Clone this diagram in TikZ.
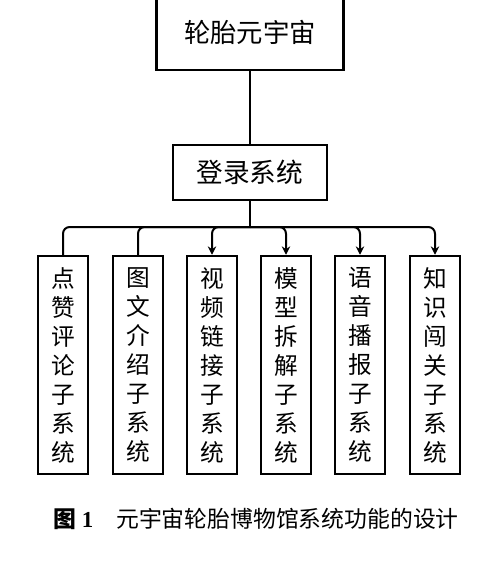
\documentclass[tikz,border=0pt]{standalone}
\usepackage{fontspec}
\setmainfont{Noto Sans CJK SC}
\newfontfamily\numfont{Liberation Serif}
\usepackage{tikz}
\usetikzlibrary{arrows.meta, positioning}

\begin{document}
\begin{tikzpicture}[x=0.6pt, y=-0.6pt,
    box/.style={draw, line width=1.5pt, inner sep=0pt},
    subbox/.style={box, minimum width=30pt, minimum height=130.8pt,
                   align=center, font=\fontsize{14.2}{17.4}\selectfont},
    link/.style={line width=1.2pt, rounded corners=4pt},
    arrowlink/.style={link, -{Stealth[length=5pt, width=5pt]}}]
    \begin{scope}
      % page fixed to the reference size, top box runs off the edge
      \useasboundingbox (0,0) rectangle (500,565);
      \clip (0,0) rectangle (500,565);

      % Level 0: tyre metaverse
      \node[box, minimum width=112.2pt, minimum height=45.6pt,
            font=\fontsize{15.8}{18}\selectfont] (top) at (250,32) {\raisebox{-3pt}{轮胎元宇宙}};

      % Level 1: login
      \node[box, minimum width=92.4pt, minimum height=33pt,
            font=\fontsize{16}{18}\selectfont] (login) at (250,172.5) {登录系统};
      \coordinate (bus) at (250,227);

      % Level 2: subsystems
      \node[subbox] (c1) at (63,365)  {点\\赞\\评\\论\\子\\系\\统};
      \node[subbox] (c2) at (138,365) {图\\文\\介\\绍\\子\\系\\统};
      \node[subbox] (c3) at (212,365) {视\\频\\链\\接\\子\\系\\统};
      \node[subbox] (c4) at (286,365) {模\\型\\拆\\解\\子\\系\\统};
      \node[subbox] (c5) at (360,365) {语\\音\\播\\报\\子\\系\\统};
      \node[subbox] (c6) at (435,365) {知\\识\\闯\\关\\子\\系\\统};

      % Connectors
      \draw[link] (top) -- (login);
      \draw[link] (login) -- (bus);
      \draw[link] (bus) -| (c1.north);
      \draw[link] (bus) -| (c2.north);
      \draw[arrowlink] (bus) -| (c3.north);
      \draw[arrowlink] (bus) -| (c4.north);
      \draw[arrowlink] (bus) -| (c5.north);
      \draw[arrowlink] (bus) -| (c6.north);

      % Caption
      \node[anchor=west, font=\fontsize{13.7}{16}\selectfont] (caption) at (48,519)
        {{\bfseries 图\ \numfont 1}\quad 元宇宙轮胎博物馆系统功能的设计};
    \end{scope}
\end{tikzpicture}
\end{document}
